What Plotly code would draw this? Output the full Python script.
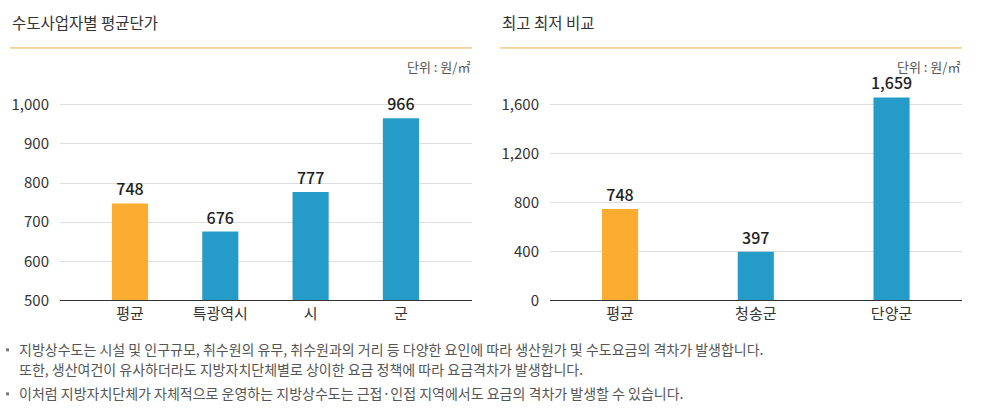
import plotly.graph_objects as go

# 수도사업자별 평균단가 (원/㎡)
left_cats = ["평균", "특광역시", "시", "군"]
left_vals = [748, 676, 777, 966]
left_ticks = [500, 600, 700, 800, 900, 1000]

# 최고 최저 비교
right_cats = ["평균", "청송군", "단양군"]
right_vals = [748, 397, 1659]
right_ticks = [0, 400, 800, 1200, 1600]

notes = [
    "지방상수도는 시설 및 인구규모, 취수원의 유무, 취수원과의 거리 등 다양한 요인에 따라 생산원가 및 수도요금의 격차가 발생합니다.",
    "또한, 생산여건이 유사하더라도 지방자치단체별로 상이한 요금 정책에 따라 요금격차가 발생합니다.",
    "이처럼 지방자치단체가 자체적으로 운영하는 지방상수도는 근접·인접 지역에서도 요금의 격차가 발생할 수 있습니다.",
]

W, H = 981, 420
FONT = "Noto Sans CJK KR"
ORANGE = "#FCAC30"
BLUE = "#249CC7"
TXT = "#333333"


def px(x):
    return x / W


def py(y):
    return 1 - y / H


def colors(cats):
    return [ORANGE if c == "평균" else BLUE for c in cats]


fig = go.Figure()
fig.add_trace(go.Bar(
    x=left_cats, y=left_vals, xaxis="x", yaxis="y", width=0.4,
    marker=dict(color=colors(left_cats), line=dict(width=0)),
    text=[f"{v:,}" for v in left_vals], textposition="outside", constraintext="none",
    textfont=dict(size=16, color="#222222", family=FONT, weight=500), cliponaxis=False,
    hoverinfo="skip",
))
fig.add_trace(go.Bar(
    x=right_cats, y=right_vals, xaxis="x2", yaxis="y2", width=0.266,
    marker=dict(color=colors(right_cats), line=dict(width=0)),
    text=[f"{v:,}" for v in right_vals], textposition="outside", constraintext="none",
    textfont=dict(size=16, color="#222222", family=FONT, weight=500), cliponaxis=False,
    hoverinfo="skip",
))

xcommon = dict(type="category", showline=True, linecolor="#333333", linewidth=1,
               showgrid=False, ticks="", fixedrange=True,
               tickfont=dict(size=15, color=TXT, family=FONT))
ycommon = dict(showgrid=True, gridcolor="#dddddd", gridwidth=1, zeroline=False,
               showline=False, ticks="", tickformat=",", ticklabelstandoff=10,
               tickfont=dict(size=15, color=TXT, family=FONT), fixedrange=True,
               domain=[py(307), py(80)])

fig.update_layout(
    width=W, height=H, margin=dict(l=0, r=0, t=0, b=0),
    paper_bgcolor="white", plot_bgcolor="white", showlegend=False,
    font=dict(family=FONT, color=TXT),
    xaxis=dict(xcommon, domain=[px(60), px(472)], range=[-0.775, 3.787], anchor="y"),
    yaxis=dict(ycommon, range=[500, 1068], tickvals=left_ticks, anchor="x"),
    xaxis2=dict(xcommon, domain=[px(550), px(962)], range=[-0.516, 2.519], anchor="y2"),
    yaxis2=dict(ycommon, range=[0, 1816], tickvals=right_ticks, anchor="x2"),
)

# titles, orange rules and unit labels
for title, x0, x1 in [("수도사업자별 평균단가", 10, 472), ("최고 최저 비교", 500, 962)]:
    fig.add_annotation(x=px(x0), y=py(22), xref="paper", yref="paper", text=title,
                       showarrow=False, xanchor="left", yanchor="middle",
                       font=dict(size=15.5, color=TXT, family=FONT))
    fig.add_shape(type="line", xref="paper", yref="paper", x0=px(x0), x1=px(x1),
                  y0=py(49), y1=py(49), line=dict(color="#EDAF4C", width=1))
    fig.add_annotation(x=px(x1), y=py(68), xref="paper", yref="paper", text="단위 : 원/㎡",
                       showarrow=False, xanchor="right", yanchor="middle",
                       font=dict(size=13, color="#555555", family=FONT))

# notes
for txt, y, bullet in [(notes[0], 357, True), (notes[1], 377, False), (notes[2], 402, True)]:
    if bullet:
        fig.add_shape(type="rect", xref="paper", yref="paper", x0=px(6), x1=px(9),
                      y0=py(y + 2), y1=py(y - 1), fillcolor="#777777", line=dict(width=0))
    fig.add_annotation(x=px(17), y=py(y), xref="paper", yref="paper", text=txt,
                       showarrow=False, xanchor="left", yanchor="middle",
                       font=dict(size=14, color="#555555", family=FONT))

# drop the default body margin so the figure fills the window exactly
fig.write_html("out.html", config={"displayModeBar": False},
               post_script="document.body.style.margin='0';")
